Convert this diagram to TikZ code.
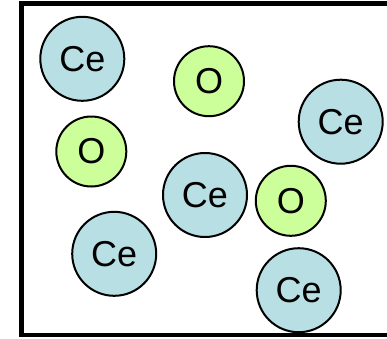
\documentclass[tikz,border=0pt]{standalone}
\usepackage{fontspec}
\setmainfont{Liberation Sans}
\usepackage{tikz}
\usetikzlibrary{positioning}
\definecolor{ceblue}{RGB}{184,223,227}
\definecolor{oxgreen}{RGB}{204,255,153}

\begin{document}
\begin{tikzpicture}[x=1pt, y=-1pt]
    % スタイル定義
    \tikzstyle{atom} = [circle, draw, line width=2pt, inner sep=0pt, font=\fontsize{36}{36}\selectfont]
    \tikzstyle{ce} = [atom, fill=ceblue, minimum size=84pt]
    \tikzstyle{oxy} = [atom, fill=oxgreen, minimum size=70pt]

    % 枠
    \clip (0,0) rectangle (387,338);
    \draw [line width=4.5pt] (21.5,3.5) rectangle (395,335);

    % 配置
    \node [ce] (ce1) at (82.3,58.8) {Ce};
    \node [oxy] (ox1) at (209,81.2) {O};
    \node [ce] (ce2) at (340.7,121.7) {Ce};
    \node [oxy] (ox2) at (91.3,151.5) {O};
    \node [ce] (ce3) at (205,195) {Ce};
    \node [oxy] (ox3) at (290.8,200.8) {O};
    \node [ce] (ce4) at (114.2,253.8) {Ce};
    \node [ce] (ce5) at (298.7,290.2) {Ce};
\end{tikzpicture}
\end{document}
